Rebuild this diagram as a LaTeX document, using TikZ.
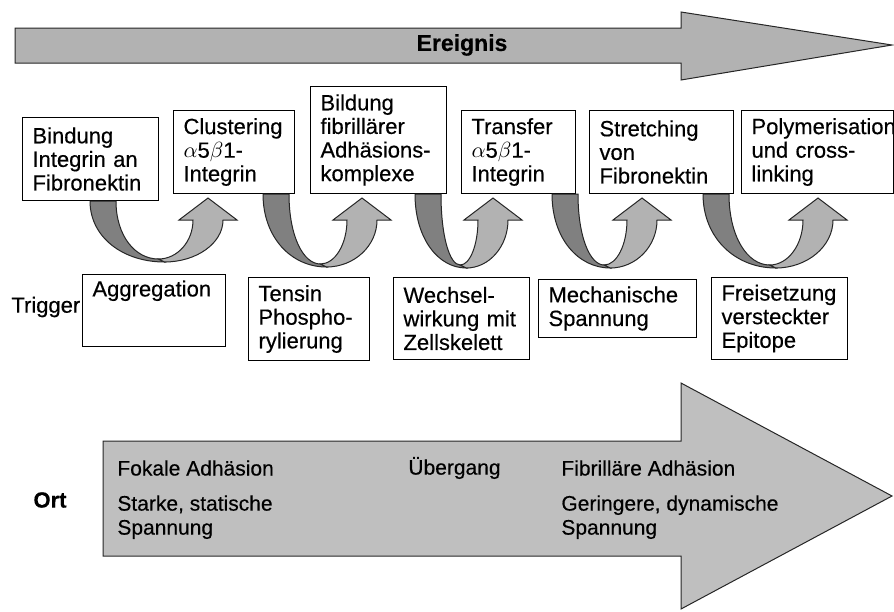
\documentclass[tikz,border=0pt]{standalone}
\usepackage{fontspec}
\setmainfont{Liberation Sans}[FakeBold=0.4]
\usetikzlibrary{calc}

\definecolor{twistdark}{gray}{0.5}
\definecolor{twistlight}{gray}{0.7}
\definecolor{bandgray}{gray}{0.7}
\definecolor{bigarrow}{gray}{0.75}

\tikzstyle{shell} = [draw=black!85, line width=0.5pt]
\tikzstyle{evbox} = [draw, fill=white, line width=0.5pt, anchor=north west, align=left, inner xsep=5pt, inner ysep=3pt, font=\fontsize{11}{11.8}\selectfont]
\tikzstyle{plain} = [inner sep=0pt, font=\fontsize{11}{11.8}\selectfont]
\tikzstyle{ortlabel} = [inner sep=0pt, align=left, font=\fontsize{10.5}{12}\selectfont]

% twisted U-arrow from under box #1 to under box #3
\newcommand{\bentarrow}[5]{%
	\coordinate (s0) at ($(#1.south west)+(#2,0)$);
	\coordinate (s1) at ($(s0)+(26,0)$);
	\coordinate (tp) at ($(#3.south west)+(#4,4)$);
	\coordinate (mid) at ($(s0)!0.58!(tp)$);
	\coordinate (bend) at ($(mid |- s0)+(0,#5)$);
	\coordinate (bin) at ($(bend)+(0,-3)$);
	\coordinate (bout) at ($(bend)+(6,0)$);
	\coordinate (h0) at ($(tp)+(-15,22)$);
	\coordinate (h1) at ($(tp)+(15,22)$);
	\coordinate (w0) at ($(tp)+(-29,22)$);
	\coordinate (w1) at ($(tp)+(29,22)$);
	\filldraw[shell, fill=twistdark] (s0) -- (s1) .. controls ($(s1)!0.6!(s1 |- bin)$) and ($(bin)!0.55!(s1 |- bin)$) .. (bin) -- (bout) .. controls ($(bout)!0.55!(s0 |- bout)$) and ($(s0)!0.6!(s0 |- bout)$) .. (s0) -- cycle;
	\filldraw[shell, fill=twistlight] (bin) .. controls ($(bin)!0.55!(h0 |- bin)$) and ($(h0)!0.55!(h0 |- bin)$) .. (h0) -- (w0) -- (tp) -- (w1) -- (h1) .. controls ($(h1)!0.55!(h1 |- bout)$) and ($(bout)!0.55!(h1 |- bout)$) .. (bout) -- cycle;
}

\begin{document}
\begin{tikzpicture}[x=0.5pt, y=-0.5pt]
	\useasboundingbox (0,0) rectangle (894,611);

	\filldraw[shell, fill=bandgray] (15,28) -- (681,28) -- (681,12) -- (892,45) -- (681,80) -- (681,63) -- (15,63) -- cycle; % event arrow
	\node[font=\fontsize{11.5}{12}\selectfont\bfseries] (ereignis) at (462,45) {Ereignis};

	% events
	\node[evbox, text width=58pt, minimum height=41.5pt] (ev1) at (22,117) {Bindung\\Integrin an\\Fibronektin};
	\node[evbox, text width=50.5pt, minimum height=41.5pt] (ev2) at (173,110) {Clustering\\$\alpha$5$\beta$1-\\Integrin};
	\node[evbox, text width=58pt, minimum height=53.5pt] (ev3) at (310,86) {Bildung\\fibrillärer\\Adhäsions-\\komplexe};
	\node[evbox, text width=47pt, minimum height=41.5pt] (ev4) at (461,110) {Transfer\\$\alpha$5$\beta$1-\\Integrin};
	\node[evbox, text width=62pt, minimum height=41.5pt] (ev5) at (589,110) {Stretching\\von\\Fibronektin};
	\node[evbox, text width=66pt, minimum height=41.5pt] (ev6) at (741,110) {Polymerisation\\und cross-\\linking};

	\bentarrow{ev1}{68}{ev2}{35}{61}
	\bentarrow{ev2}{90}{ev3}{52}{73}
	\bentarrow{ev3}{105}{ev4}{32}{74}
	\bentarrow{ev4}{91}{ev5}{53}{74}
	\bentarrow{ev5}{114}{ev6}{77}{74}

	% triggers
	\node[plain, anchor=west] (trig) at (11,307) {Trigger};
	\node[evbox, text width=61.5pt, text depth=22pt] (tr1) at (82,274) {Aggregation};
	\node[evbox, text width=50.5pt, minimum height=41.5pt] (tr2) at (248,277) {Tensin\\Phospho-\\rylierung};
	\node[evbox, text width=58pt, minimum height=41pt] (tr3) at (393,277) {Wechsel-\\wirkung mit\\Zellskelett};
	\node[evbox, text width=69pt, minimum height=29pt] (tr4) at (538,279) {Mechanische\\Spannung};
	\node[evbox, text width=58pt, minimum height=41pt] (tr5) at (711,277) {Freisetzung\\versteckter\\Epitope};

	% location arrow
	\filldraw[shell, fill=bigarrow] (103,441) -- (681,441) -- (681,383) -- (892,496) -- (681,609) -- (681,556) -- (103,556) -- cycle;
	\node[plain, font=\fontsize{11}{12}\selectfont\bfseries] (ort) at (50,500) {Ort};

	\node[ortlabel, anchor=west] (fokal) at (117,468) {Fokale Adhäsion};
	\node[ortlabel, anchor=west] (uebergang) at (408,468) {Übergang};
	\node[ortlabel, anchor=west] (fibrill) at (561,468) {Fibrilläre Adhäsion};
	\node[ortlabel, anchor=north west] (stark) at (117,495) {Starke, statische\\Spannung};
	\node[ortlabel, anchor=north west] (gering) at (561,495) {Geringere, dynamische\\Spannung};

\end{tikzpicture}
\end{document}
